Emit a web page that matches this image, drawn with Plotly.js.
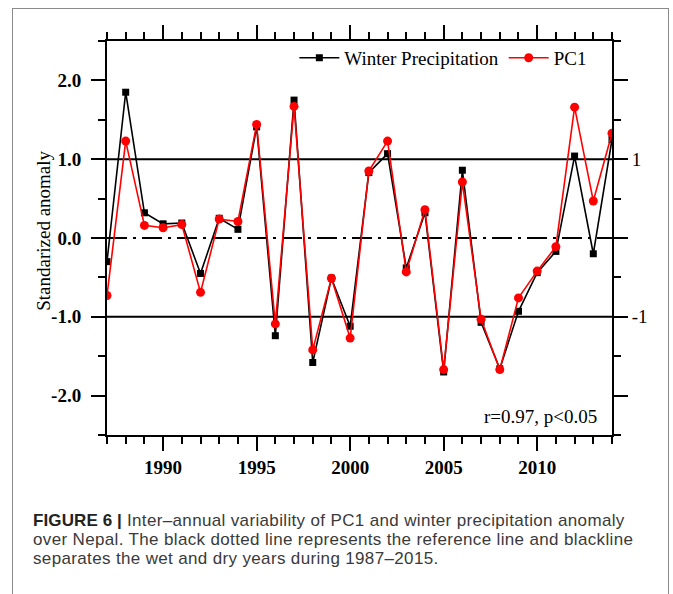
<!DOCTYPE html>
<html>
<head>
<meta charset="utf-8">
<script src="https://cdn.plot.ly/plotly-3.0.1.min.js"></script>
<style>
  html, body { margin: 0; padding: 0; background: #fff; }
  #wrap { position: relative; width: 673px; height: 594px; overflow: hidden; background: #fff; }
  #frame { position: absolute; left: 12px; top: 8px; width: 657px; height: 620px; border: 1.5px solid #8a8a8a; box-sizing: border-box; }
  #chart { position: absolute; left: 0; top: 0; width: 673px; height: 594px; }
  .cap { position: absolute; left: 33px; white-space: nowrap; font-family: "Liberation Sans", Arial, sans-serif; font-size: 17px; line-height: 19px; height: 19px; letter-spacing: 0.35px; color: #3a3a3a; }
  .cap .b { font-weight: bold; color: #222; letter-spacing: 0.1px; }
</style>
</head>
<body>
<div id="wrap">
  <div id="frame"></div>
  <div id="chart"></div>
  <div class="cap" style="top:511px"><span class="b">FIGURE 6 |</span><span> Inter–annual variability of PC1 and winter precipitation anomaly</span></div>
  <div class="cap" style="top:530px"><span>over Nepal. The black dotted line represents the reference line and blackline</span></div>
  <div class="cap" style="top:549px"><span>separates the wet and dry years during 1987–2015.</span></div>
</div>
<script>
// ---- data ----
const years = [1987, 1988, 1989, 1990, 1991, 1992, 1993, 1994, 1995, 1996, 1997, 1998, 1999, 2000,
               2001, 2002, 2003, 2004, 2005, 2006, 2007, 2008, 2009, 2010, 2011, 2012, 2013, 2014];
const winterPrecip = [-0.30, 1.85, 0.32, 0.18, 0.19, -0.45, 0.25, 0.11, 1.41, -1.24, 1.75, -1.58, -0.51, -1.12,
                      0.83, 1.07, -0.38, 0.32, -1.70, 0.86, -1.07, -1.66, -0.93, -0.44, -0.17, 1.04, -0.20, 1.25];
const pc1 = [-0.73, 1.23, 0.16, 0.13, 0.17, -0.69, 0.24, 0.21, 1.44, -1.09, 1.67, -1.42, -0.51, -1.27,
             0.85, 1.23, -0.43, 0.36, -1.67, 0.71, -1.03, -1.67, -0.76, -0.42, -0.11, 1.66, 0.47, 1.33];
const seriesNames = ["Winter Precipitation", "PC1"];
const xTickVals = [1990, 1995, 2000, 2005, 2010];
const xTickText = ["1990", "1995", "2000", "2005", "2010"];
const yTickVals = [-2, -1, 0, 1, 2];
const yTickText = ["-2.0", "-1.0", "0.0", "1.0", "2.0"];
const yRightTickText = ["", "-1", "", "1", ""];
const yMinorVals = [-2.5, -1.5, -0.5, 0.5, 1.5, 2.5];
const wetDryThresholds = [-1, 1];
const referenceLevel = 0;
const statsText = "r=0.97, p&lt;0.05";
const yTitle = "Standarized anomaly";

// ---- style ----
const serif = '"Liberation Serif", "Times New Roman", Times, serif';
const xRange = [years[0], years[years.length - 1]];
const yRange = [-2.5, 2.5];

const axisCommon = {
  showgrid: false, zeroline: false,
  showline: true, linecolor: '#000', linewidth: 2,
  ticks: 'outside', ticklen: 14, tickwidth: 2, tickcolor: '#000',
};
const minorX = { tickmode: 'linear', tick0: 1987, dtick: 1, ticks: 'outside', ticklen: 7, tickwidth: 2, tickcolor: '#000', showgrid: false };
const minorY = { tickmode: 'array', tickvals: yMinorVals, ticks: 'outside', ticklen: 7, tickwidth: 2, tickcolor: '#000', showgrid: false };

const traces = [
  {
    x: years, y: winterPrecip, name: seriesNames[0], type: 'scatter', mode: 'lines+markers',
    line: { color: '#000', width: 1.6 },
    marker: { symbol: 'square', size: 7, color: '#000' },
    xaxis: 'x', yaxis: 'y'
  },
  {
    x: years, y: pc1, name: seriesNames[1], type: 'scatter', mode: 'lines+markers',
    line: { color: '#ff0000', width: 1.6 },
    marker: { symbol: 'circle', size: 9, color: '#ff0000' },
    xaxis: 'x2', yaxis: 'y2'
  }
];

const shapes = wetDryThresholds.map(v => ({
  type: 'line', xref: 'paper', x0: 0, x1: 1, yref: 'y', y0: v, y1: v,
  line: { color: '#000', width: 2 }, layer: 'below'
}));
shapes.push({
  type: 'line', xref: 'paper', x0: 0, x1: 1, yref: 'y', y0: referenceLevel, y1: referenceLevel,
  line: { color: '#000', width: 2, dash: '20px,6px,3px,6px' }, layer: 'below'
});

const layout = {
  width: 673, height: 594,
  margin: { l: 107, r: 61, t: 41, b: 159 },
  paper_bgcolor: 'rgba(0,0,0,0)', plot_bgcolor: 'rgba(0,0,0,0)',
  font: { family: serif, size: 19, color: '#000' },
  showlegend: true,
  legend: {
    orientation: 'h', x: 0.371, xanchor: 'left', y: 0.957, yanchor: 'middle',
    font: { family: serif, size: 19, color: '#000' },
    bgcolor: 'rgba(0,0,0,0)', borderwidth: 0, itemwidth: 40
  },
  xaxis: Object.assign({}, axisCommon, {
    range: xRange, tickmode: 'array', tickvals: xTickVals, ticktext: xTickText,
    tickfont: { family: serif, size: 19, weight: 'bold', color: '#000' },
    ticklabelstandoff: 0,
    minor: minorX
  }),
  yaxis: Object.assign({}, axisCommon, {
    range: yRange, tickmode: 'array', tickvals: yTickVals, ticktext: yTickText,
    tickfont: { family: serif, size: 19, weight: 'bold', color: '#000' },
    ticklabelstandoff: 6,
    minor: minorY,
    automargin: false
  }),
  xaxis2: Object.assign({}, axisCommon, {
    overlaying: 'x', side: 'top', anchor: 'y2',
    range: xRange, tickmode: 'array', tickvals: xTickVals, showticklabels: false,
    minor: minorX
  }),
  yaxis2: Object.assign({}, axisCommon, {
    overlaying: 'y', side: 'right', anchor: 'x2',
    range: yRange, tickmode: 'array', tickvals: yTickVals, ticktext: yRightTickText,
    tickfont: { family: serif, size: 19, color: '#000' },
    ticklabelstandoff: 0,
    minor: minorY
  }),
  shapes: shapes,
  annotations: [
    {
      text: statsText, xref: 'paper', yref: 'paper', x: 0.974, y: 0.046,
      xanchor: 'right', yanchor: 'middle', showarrow: false,
      font: { family: serif, size: 19, color: '#000' }
    },
    {
      text: yTitle, xref: 'paper', yref: 'paper', x: -0.125, y: 0.518,
      xanchor: 'center', yanchor: 'middle', textangle: -90, showarrow: false,
      font: { family: serif, size: 19, color: '#000' }
    }
  ]
};

Plotly.newPlot('chart', traces, layout, { displayModeBar: false, staticPlot: true });
</script>
</body>
</html>
